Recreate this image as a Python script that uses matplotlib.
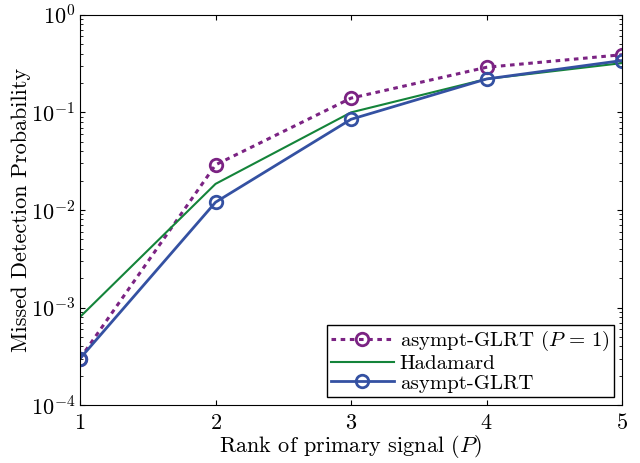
import matplotlib
matplotlib.use("Agg")
import matplotlib.pyplot as plt
import numpy as np

plt.rcParams['font.family'] = 'serif'
plt.rcParams['font.serif'] = ['cmr10']
plt.rcParams['mathtext.fontset'] = 'cm'
plt.rcParams['axes.formatter.use_mathtext'] = True

rank = [1, 2, 3, 4, 5]
glrt_p1 = [3.0e-4, 2.9e-2, 0.14, 0.29, 0.39]
hadamard = [8.0e-4, 1.85e-2, 0.10, 0.22, 0.32]
glrt = [3.0e-4, 1.2e-2, 0.085, 0.22, 0.34]

fig = plt.figure(figsize=(6.4, 4.63), dpi=100)
ax = fig.add_axes([0.125, 0.125, 0.847, 0.843])

ax.plot(rank, glrt_p1, color='#7b2383', lw=2.2, ls=(0, (1.5, 1.5)), marker='o', ms=9,
        mfc='none', mew=2, label=r'asympt-GLRT $(P\,=\,1)$')
ax.plot(rank, hadamard, '-', color='#14843a', lw=1.5, label='Hadamard')
ax.plot(rank, glrt, '-', color='#3451a2', lw=2, marker='o', ms=9,
        mfc='none', mew=2, label='asympt-GLRT')

ax.set_yscale('log')
ax.set_xlim(1, 5)
ax.set_ylim(1e-4, 1)
ax.set_xticks(rank)
ax.tick_params(which='both', direction='in', top=True, right=True, labelsize=16)
ax.tick_params(axis='x', pad=6)
ax.set_xlabel(r'Rank of primary signal $(P)$', fontsize=16, labelpad=0)
ax.set_ylabel('Missed Detection Probability', fontsize=16, labelpad=0)

leg = ax.legend(loc='lower right', fontsize=15, fancybox=False, framealpha=1,
                edgecolor='black', borderaxespad=0.4, handlelength=3.0,
                borderpad=0.2, labelspacing=0.05, handletextpad=0.3)
leg.get_frame().set_linewidth(1)

fig.savefig('out.png', dpi=100)
